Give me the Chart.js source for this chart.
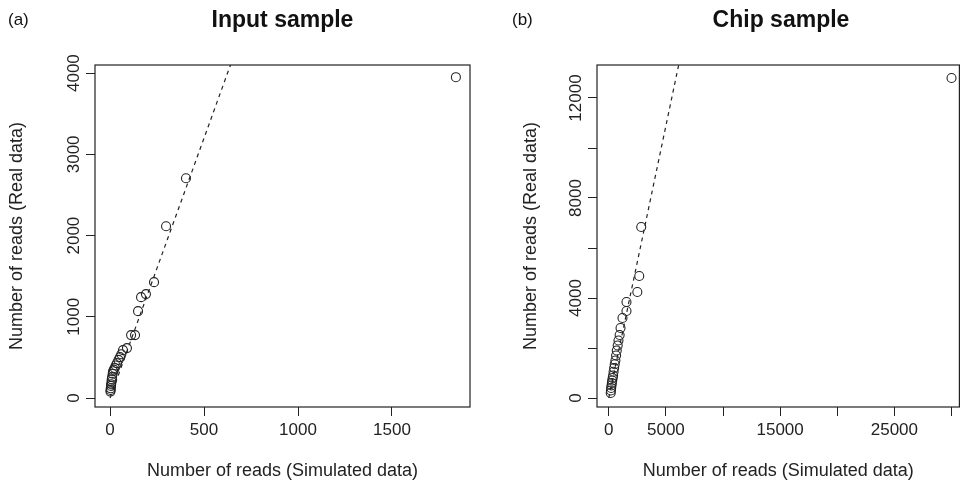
<!DOCTYPE html>
<html>
<head>
<meta charset="utf-8">
<script src="https://cdn.jsdelivr.net/npm/chart.js@4"></script>
<style>
  body { margin: 0; background: #fff; font-family: "Liberation Sans", Arial, sans-serif; }
  .wrap { position: relative; width: 965px; height: 486px; }
  .pane { position: absolute; top: 0; width: 482px; height: 486px; }
  .tag { position: absolute; top: 10px; font-size: 17px; color: #111; }
  .ttl { position: absolute; top: 6px; font-size: 23px; font-weight: bold; color: #111; text-align: center; }
</style>
</head>
<body>
<div class="wrap">
  <div class="pane" style="left:0"><canvas id="chartA" width="482" height="486"></canvas></div>
  <div class="pane" style="left:482px"><canvas id="chartB" width="483" height="486"></canvas></div>
  <div class="tag" style="left:8px">(a)</div>
  <div class="ttl" style="left:95px;width:375px">Input sample</div>
  <div class="tag" style="left:512px">(b)</div>
  <div class="ttl" style="left:597px;width:368px">Chip sample</div>
</div>
<script>
// Panel (a): Input sample
const inputSim = [1840, 404, 298, 234, 191, 165, 149, 133, 112, 90, 69, 60, 53, 45, 37, 30, 25, 20, 16, 14, 11, 9, 8, 6, 5, 4, 3, 2];
const inputReal = [3950, 2706, 2115, 1427, 1280, 1242, 1070, 775, 775, 615, 590, 540, 504, 470, 430, 400, 370, 350, 330, 300, 260, 230, 200, 170, 150, 120, 100, 80];
const inputLineX = [0, 700];
const inputLineY = [0, 4480];
const inputXTicks = [0, 500, 1000, 1500];
const inputYTicks = [0, 1000, 2000, 3000, 4000];

// Panel (b): Chip sample
const chipSim = [30000, 2840, 2670, 2500, 1550, 1550, 1200, 1030, 950, 850, 780, 700, 640, 580, 520, 470, 420, 380, 340, 300, 270, 240, 210, 190, 170];
const chipReal = [12800, 6840, 4880, 4240, 3840, 3480, 3200, 2800, 2520, 2300, 2100, 1900, 1700, 1500, 1350, 1200, 1050, 900, 800, 700, 600, 500, 400, 300, 200];
const chipLineX = [0, 6500];
const chipLineY = [0, 14150];
const chipXTicks = [0, 5000, 10000, 15000, 20000, 25000, 30000];
const chipXLabels = ['0', '5000', '', '15000', '', '25000', ''];
const chipYTicks = [0, 2000, 4000, 6000, 8000, 10000, 12000];
const chipYLabels = ['0', '', '4000', '', '8000', '', '12000'];

const FONT = '"Liberation Sans", Arial, sans-serif';
const INK = '#222';

// rotated y tick labels (R style) and full box around the plot
const rPlot = {
  id: 'rPlot',
  afterDraw(chart, args, opts) {
    const c = chart.ctx, a = chart.chartArea, y = chart.scales.y;
    c.save();
    c.strokeStyle = INK; c.lineWidth = 1.2;
    c.strokeRect(a.left, a.top, a.right - a.left, a.bottom - a.top);
    c.fillStyle = INK; c.font = '17px ' + FONT;
    c.textAlign = 'center'; c.textBaseline = 'bottom';
    opts.ticks.forEach((v, i) => {
      const lab = opts.labels[i];
      if (!lab) return;
      c.save();
      c.translate(a.left - 12, y.getPixelForValue(v));
      c.rotate(-Math.PI / 2);
      c.fillText(lab, 0, 0);
      c.restore();
    });
    c.restore();
  }
};

function makeChart(id, sim, real, lineX, lineY, xr, yr, xTicks, xLabels, yTicks, yLabels, padLeft, padRight, yWidth) {
  return new Chart(document.getElementById(id), {
    type: 'scatter',
    data: {
      datasets: [
        {
          data: sim.map((x, i) => ({ x: x, y: real[i] })),
          pointStyle: 'circle', pointRadius: 4.5, pointBorderWidth: 1.1,
          pointBorderColor: INK, pointBackgroundColor: 'rgba(0,0,0,0)',
        },
        {
          type: 'line',
          data: lineX.map((x, i) => ({ x: x, y: lineY[i] })),
          borderColor: INK, borderWidth: 1.2, borderDash: [4, 4],
          pointRadius: 0, fill: false,
        },
      ],
    },
    options: {
      responsive: false, animation: false,
      layout: { padding: { left: padLeft, right: padRight, top: 65, bottom: 0 } },
      plugins: {
        legend: { display: false }, tooltip: { enabled: false },
        rPlot: { ticks: yTicks, labels: yLabels },
      },
      scales: {
        x: {
          type: 'linear', min: xr[0], max: xr[1],
          afterBuildTicks: s => { s.ticks = xTicks.map(v => ({ value: v })); },
          afterFit: s => { s.height = 79; },
          ticks: { font: { size: 17, family: FONT }, color: INK, maxRotation: 0, padding: 4,
                   callback: (v, i) => xLabels ? xLabels[i] : String(v) },
          grid: { drawOnChartArea: false, tickLength: 9, color: INK },
          border: { display: false },
          title: { display: true, text: 'Number of reads (Simulated data)', font: { size: 18, family: FONT }, color: INK, padding: { top: 0, bottom: 4 } },
        },
        y: {
          type: 'linear', min: yr[0], max: yr[1],
          afterBuildTicks: s => { s.ticks = yTicks.map(v => ({ value: v })); },
          afterFit: s => { s.width = yWidth; },
          ticks: { display: false },
          grid: { drawOnChartArea: false, tickLength: 9, color: INK },
          border: { display: false },
          title: { display: true, text: 'Number of reads (Real data)', font: { size: 18, family: FONT }, color: INK, padding: { top: 6, bottom: 0 } },
        },
      },
    },
    plugins: [rPlot],
  });
}

makeChart('chartA', inputSim, inputReal, inputLineX, inputLineY, [-80, 1915], [-110, 4100],
  inputXTicks, null, inputYTicks, inputYTicks.map(String), 0, 12, 95);
makeChart('chartB', chipSim, chipReal, chipLineX, chipLineY, [-1030, 30690], [-360, 13320],
  chipXTicks, chipXLabels, chipYTicks, chipYLabels, 32, 0, 83);
</script>
</body>
</html>
